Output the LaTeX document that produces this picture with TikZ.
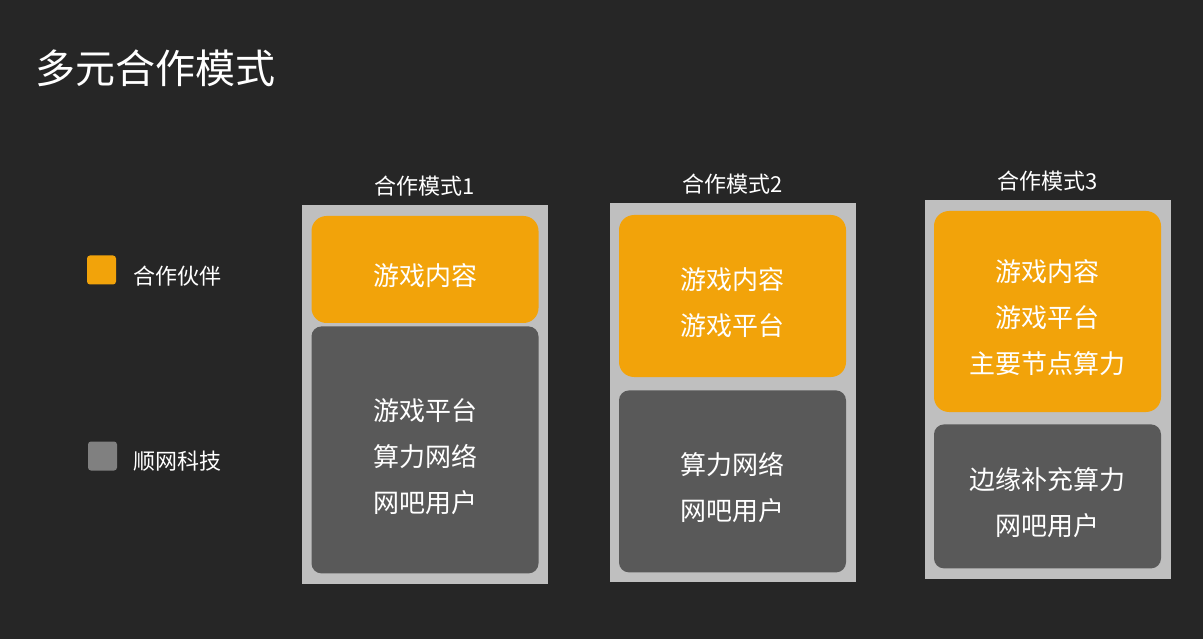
\documentclass[tikz,border=0pt]{standalone}
\usepackage{fontspec}
\setmainfont{Noto Sans CJK SC}
\usetikzlibrary{positioning}
\definecolor{BgGray}{HTML}{262626}
\definecolor{PanelGray}{HTML}{BFBFBF}
\definecolor{PartnerOrange}{HTML}{F2A30A}
\definecolor{OwnGray}{HTML}{595959}
\definecolor{KeyGray}{HTML}{808080}

\begin{document}
\begin{tikzpicture}[x=1pt,y=-1pt,
		Panel/.style={rectangle,fill=PanelGray,minimum width=246pt,minimum height=379pt,inner sep=0pt},
		Partner/.style={rectangle,fill=PartnerOrange,rounded corners=15pt,minimum width=227pt,inner sep=0pt},
		Own/.style={rectangle,fill=OwnGray,rounded corners=10pt,minimum width=227pt,inner sep=0pt},
		BoxText/.style={text=white,align=center,inner sep=0pt,font=\fontsize{26}{46}\selectfont},
		Key/.style={rectangle,rounded corners=3pt,minimum size=29pt,inner sep=0pt},
		Label/.style={text=white,inner sep=0pt,font=\fontsize{22}{26}\selectfont}]
		% background
		\fill[BgGray] (0,0) rectangle (1203,639);
		\useasboundingbox (0,0) rectangle (1203,639);
		% title and legend
		\node[anchor=west,inner sep=0pt,text=white,font=\fontsize{40}{48}\selectfont] (title) at (35,68) {多元合作模式};
		\node[Key,fill=PartnerOrange] (keyPartner) at (101.5,270) {};
		\node[Label,yshift=-6pt] (partner) [right=17pt of keyPartner] {合作伙伴};
		\node[Key,fill=KeyGray] (keyOwn) at (102.5,456) {};
		\node[Label,yshift=-5pt] (own) [right=16pt of keyOwn] {顺网科技};
		% panels
		\node[Panel] (back1) at (425,394.5) {};
		\node[Panel] (back2) at (732.5,392.5) {};
		\node[Panel] (back3) at (1047.5,389.5) {};
		\node[Label] (mode1) [above=8.5pt of back1] {合作模式1};
		\node[Label] (mode2) [above=8.5pt of back2] {合作模式2};
		\node[Label] (mode3) [above=8.5pt of back3] {合作模式3};
		% boxes
		\node[Partner,minimum height=107pt] (part1) [below=11pt of back1.north] {};
		\node[Own,minimum height=247pt] (own1) [below=3pt of part1] {};
		\node[Partner,minimum height=162pt] (part2) [below=12pt of back2.north] {};
		\node[Own,minimum height=182pt] (own2) [below=13pt of part2] {};
		\node[Partner,minimum height=201pt] (part3) [below=11pt of back3.north] {};
		\node[Own,minimum height=144pt] (own3) [below=12pt of part3] {};
		% box texts
		\node[BoxText] (part1text) at ([yshift=-6.5pt]part1.center) {游戏内容};
		\node[BoxText] (own1text) at ([yshift=-6.5pt]own1.center) {游戏平台\\算力网络\\网吧用户};
		\node[BoxText] (part2text) at ([yshift=-6.5pt]part2.center) {游戏内容\\游戏平台};
		\node[BoxText] (own2text) at ([yshift=-6.5pt]own2.center) {算力网络\\网吧用户};
		\node[BoxText] (part3text) at ([yshift=-6.5pt]part3.center) {游戏内容\\游戏平台\\主要节点算力};
		\node[BoxText] (own3text) at ([yshift=-6.5pt]own3.center) {边缘补充算力\\网吧用户};
	\end{tikzpicture}
\end{document}
